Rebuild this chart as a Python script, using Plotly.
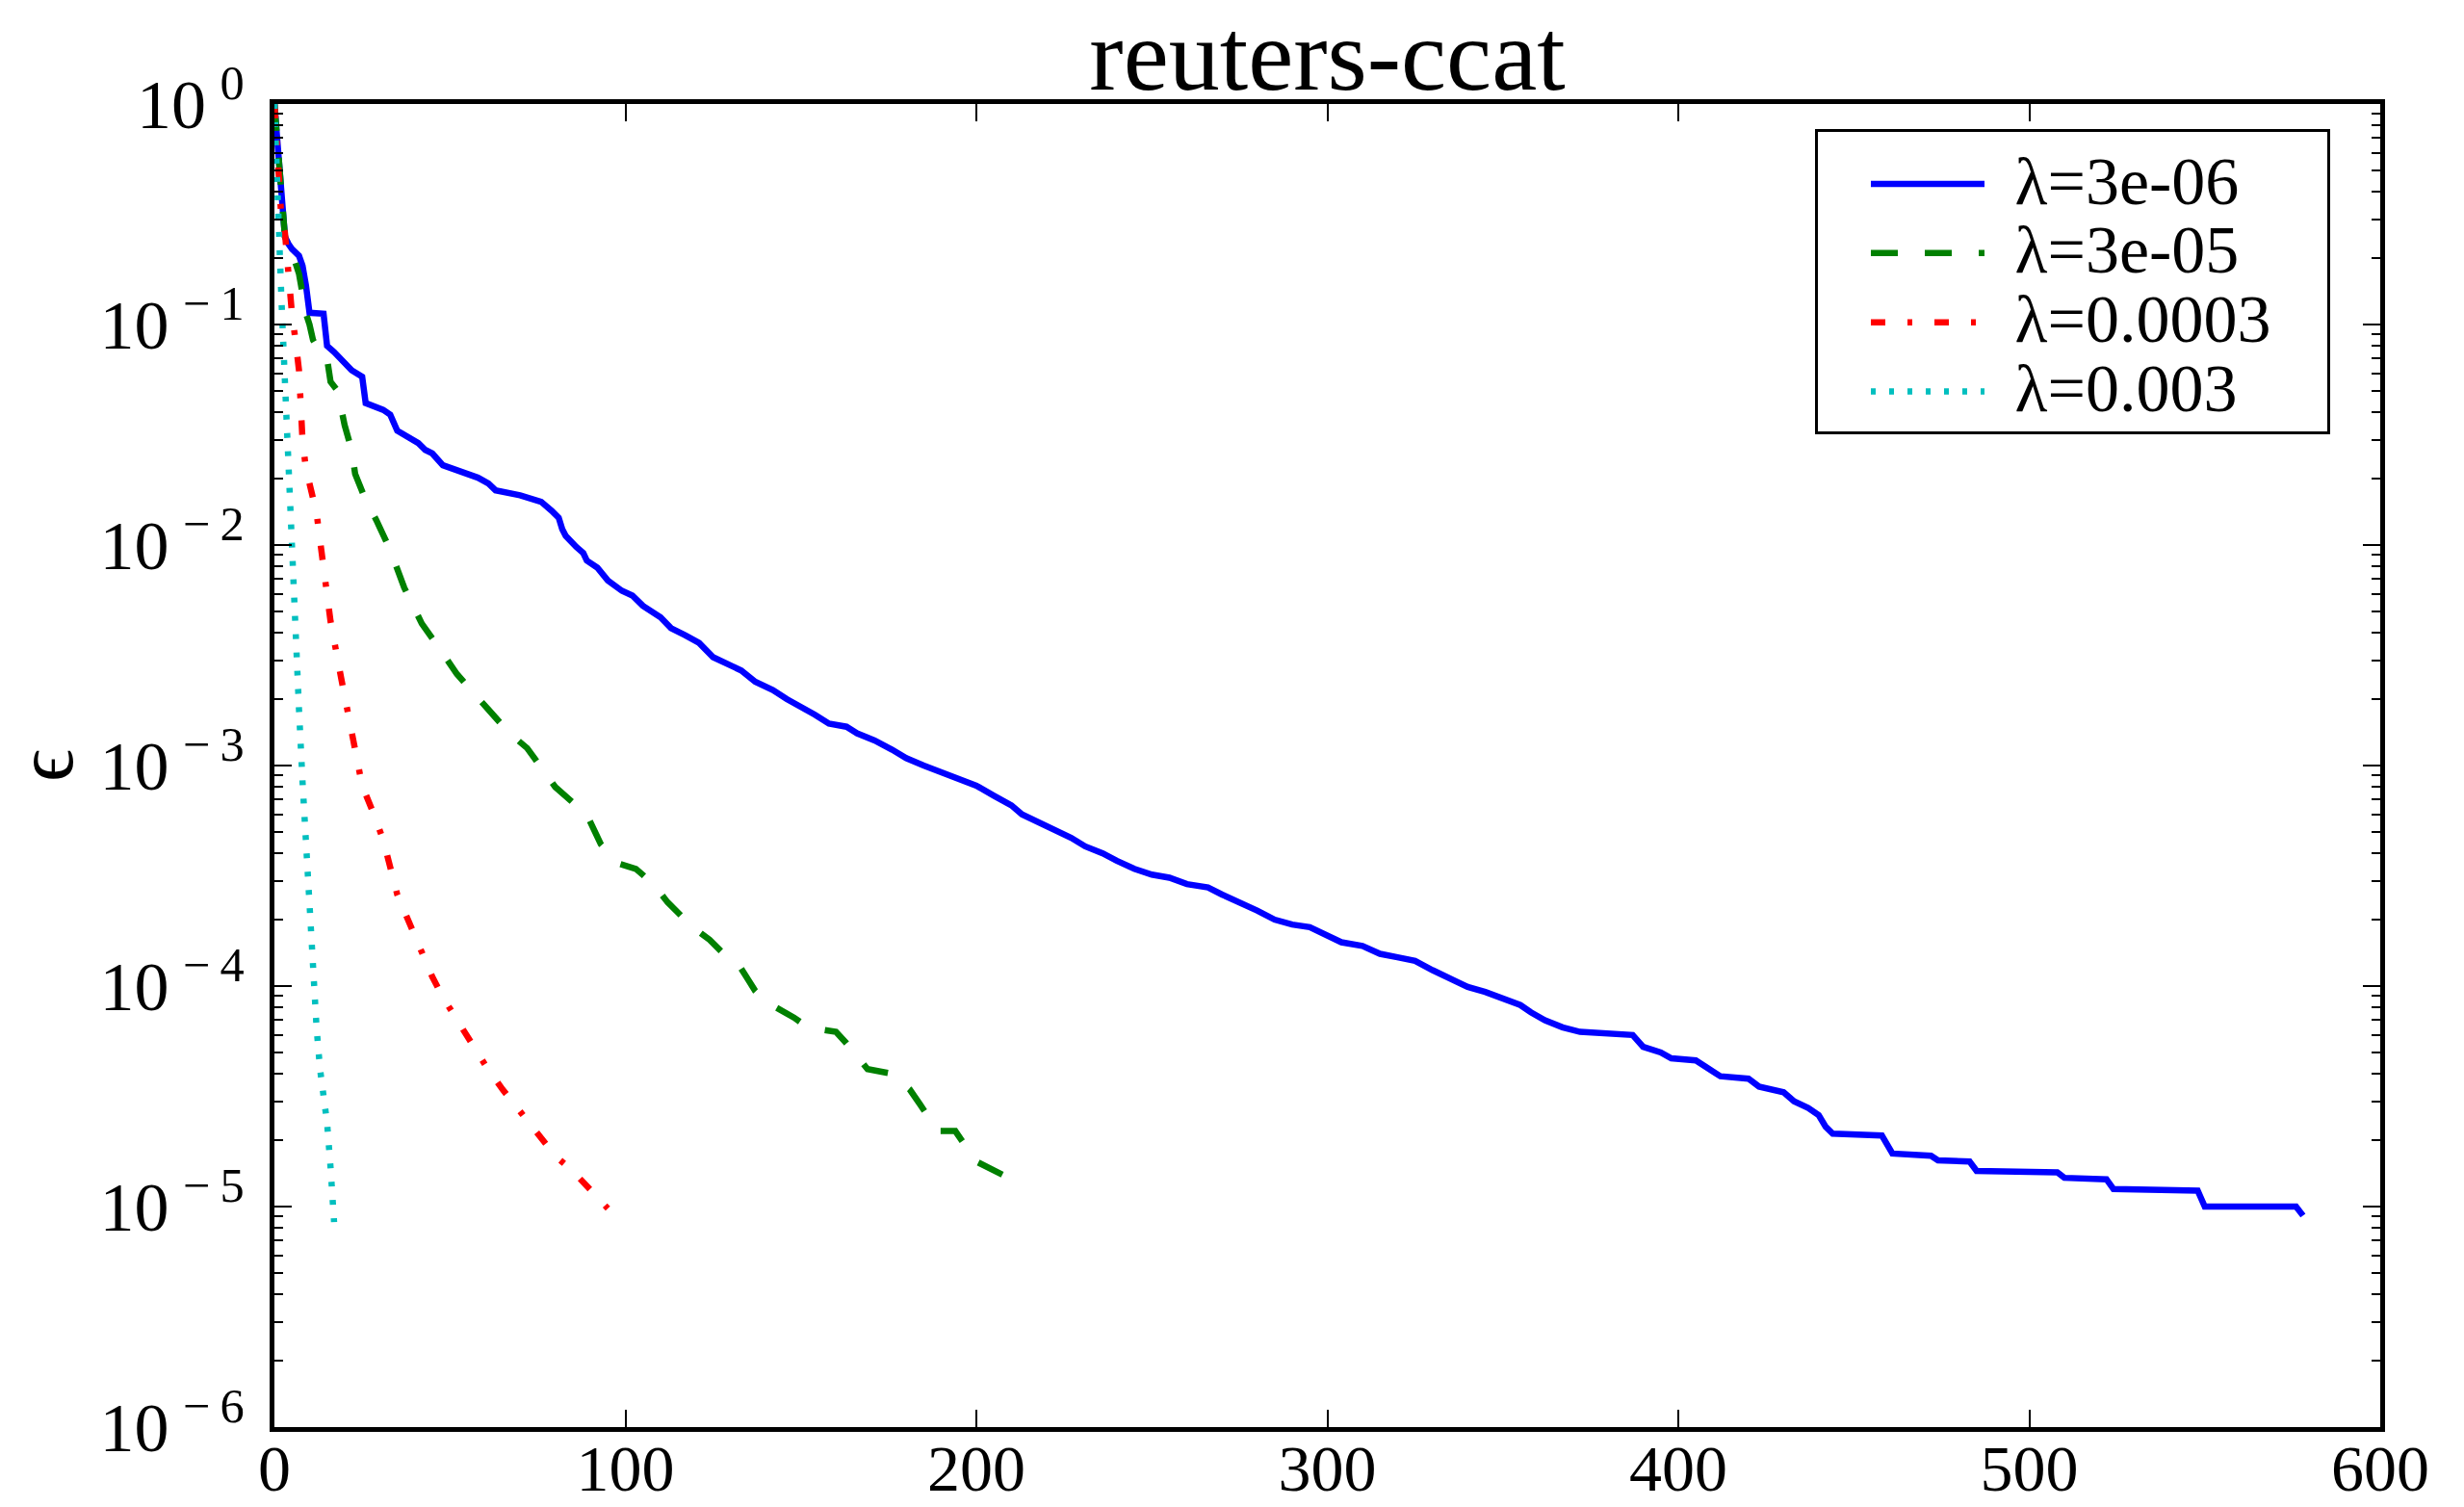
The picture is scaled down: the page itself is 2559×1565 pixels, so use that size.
import plotly.graph_objects as go

# ---------------- data ----------------
title_text = "reuters-ccat"
series_names = ["λ=3e-06", "λ=3e-05", "λ=0.0003", "λ=0.003"]
series_colors = ["#0000ff", "#008000", "#ff0000", "#00bfbf"]

blue_x = [0, 1, 2, 3, 4, 5, 7, 8, 9, 10, 14, 15, 17, 20, 22, 25, 26, 31, 33, 35, 38, 41, 43, 45, 48,
          53, 58, 61, 63, 70, 76, 79, 81, 82, 83, 86, 88, 89, 92, 95, 99, 102, 105, 110, 113, 117,
          121, 125, 129, 133, 137, 142, 146, 150, 154, 158, 163, 166, 171, 176, 180, 185, 190, 195,
          200, 205, 210, 213, 218, 222, 227, 231, 236, 240, 245, 250, 255, 260, 266, 270, 275, 280,
          285, 290, 295, 300, 304, 310, 315, 320, 325, 330, 335, 340, 345, 350, 355, 358, 362, 367,
          372, 387, 390, 395, 398, 405, 408, 412, 420, 423, 430, 433, 437, 440, 442, 444, 458, 461,
          472, 474, 483, 485, 508, 510, 522, 524, 548, 550, 576, 578]
blue_y = [1.0, 0.62, 0.42, 0.25, 0.232, 0.22, 0.205, 0.185, 0.15, 0.113, 0.112, 0.08, 0.075, 0.066,
          0.062, 0.058, 0.044, 0.041, 0.039, 0.033, 0.031, 0.029, 0.027, 0.026, 0.023, 0.0215,
          0.0202, 0.019, 0.0177, 0.0168, 0.0157, 0.0143, 0.0133, 0.0118, 0.011, 0.0098, 0.0092,
          0.0085, 0.0079, 0.0069, 0.0062, 0.0059, 0.0053, 0.0047, 0.0042, 0.0039, 0.0036, 0.0031,
          0.0029, 0.0027, 0.0024, 0.0022, 0.002, 0.00185, 0.0017, 0.00155, 0.0015, 0.0014,
          0.0013, 0.00118, 0.00108, 0.001, 0.00093, 0.00087, 0.00081, 0.00073, 0.00066, 0.0006,
          0.00055, 0.00051, 0.00047, 0.00043, 0.0004, 0.00037, 0.00034, 0.00032, 0.00031,
          0.00029, 0.00028, 0.00026, 0.00024, 0.00022, 0.0002, 0.00019, 0.000185, 0.00017,
          0.000158, 0.000152, 0.00014, 0.000135, 0.00013, 0.000118, 0.000108, 9.9e-5, 9.4e-5,
          8.8e-5, 8.2e-5, 7.6e-5, 7.0e-5, 6.5e-5, 6.2e-5, 6.0e-5, 5.3e-5, 5.0e-5, 4.7e-5, 4.6e-5,
          4.3e-5, 3.9e-5, 3.8e-5, 3.5e-5, 3.3e-5, 3.0e-5, 2.8e-5, 2.6e-5, 2.3e-5, 2.14e-5,
          2.1e-5, 1.74e-5, 1.7e-5, 1.62e-5, 1.6e-5, 1.45e-5, 1.43e-5, 1.35e-5, 1.33e-5, 1.2e-5,
          1.18e-5, 1.0e-5, 1.0e-5, 9.1e-6]

green_x = [0, 1, 2, 3, 4, 6, 7, 8, 9, 10, 11, 13, 15, 16, 18, 20, 22, 23, 26, 29, 31, 33, 37, 42, 47,
           52, 56, 61, 67, 72, 76, 80, 85, 89, 93, 98, 103, 108, 112, 116, 119, 124, 129, 133, 137,
           140, 148, 152, 160, 163, 169, 176, 181, 184, 189, 194, 198, 200, 208, 212]
green_y = [1.0, 0.6, 0.35, 0.25, 0.22, 0.19, 0.17, 0.13, 0.112, 0.1, 0.085, 0.075, 0.07, 0.055, 0.05,
           0.035, 0.027, 0.021, 0.016, 0.013, 0.011, 0.0095, 0.0064, 0.0044, 0.0034, 0.0026, 0.0022,
           0.0018, 0.0014, 0.0012, 0.00098, 0.0008, 0.00068, 0.0006, 0.00044, 0.00036, 0.00034,
           0.00029, 0.00024, 0.00021, 0.000186, 0.000162, 0.000135, 0.00012, 9.5e-5, 8.5e-5,
           7.2e-5, 6.5e-5, 6.2e-5, 5.5e-5, 4.2e-5, 4.0e-5, 3.4e-5, 2.9e-5, 2.2e-5, 2.2e-5, 1.8e-5,
           1.6e-5, 1.38e-5, 1.2e-5]

red_x = [0, 1, 2, 3, 4, 5, 6, 7, 8, 9, 10, 12, 13, 14, 16, 19, 22, 25, 28, 31, 35, 38, 41, 45, 48,
         52, 56, 60, 65, 70, 75, 80, 85, 90, 95]
red_y = [1.0, 0.5, 0.3, 0.26, 0.16, 0.112, 0.085, 0.062, 0.03, 0.022, 0.019, 0.014, 0.0105, 0.0082,
         0.0045, 0.0025, 0.0014, 0.00081, 0.00062, 0.00046, 0.00026, 0.0002, 0.000151, 0.00011,
         8.9e-5, 7.0e-5, 5.6e-5, 4.4e-5, 3.4e-5, 2.7e-5, 2.1e-5, 1.7e-5, 1.45e-5, 1.2e-5, 9.8e-6]

cyan_x = [0, 1, 2, 3, 4, 5, 6, 7, 8, 9, 10, 11, 12, 13, 14, 15, 16, 17]
cyan_y = [1.0, 0.3, 0.13, 0.055, 0.022, 0.0095, 0.0042, 0.0018, 0.00085, 0.00045, 0.00022,
          0.000105, 6.5e-5, 4.2e-5, 3.1e-5, 2.4e-5, 1.5e-5, 8.5e-6]

x_tick_vals = [0, 100, 200, 300, 400, 500, 600]
y_tick_exps = [0, -1, -2, -3, -4, -5, -6]
y_label = "ϵ"

# ---------------- figure ----------------
FONT = "Liberation Serif, DejaVu Serif, serif"
NB = "\u00a0"
dashes = ["solid", "28px,28px", "15px,23px,5px,23px", "5px,14px"]
xs = [blue_x, green_x, red_x, cyan_x]
ys = [blue_y, green_y, red_y, cyan_y]

fig = go.Figure()
for name, color, dash, x, y in zip(series_names, series_colors, dashes, xs, ys):
    label = NB * 2 + '<span style="font-size:70px">' + name + "</span>" + NB * 4
    fig.add_trace(go.Scatter(x=x, y=y, mode="lines", name=label,
                             line=dict(color=color, width=6.5, dash=dash)))


def power_label(e):
    if e < 0:
        return "10\u2009<sup>−\u2009%d</sup>" % (-e)
    return "10\u2009<sup>%d</sup>" % e


y_tick_vals = [10.0 ** e for e in y_tick_exps]
y_tick_text = [power_label(e) for e in y_tick_exps]
minor_vals = [k * 10.0 ** e for e in range(-6, 0) for k in range(2, 10)]

fig.update_layout(
    width=2559, height=1565,
    margin=dict(l=285, r=87, t=108, b=83, autoexpand=False),
    plot_bgcolor="white", paper_bgcolor="white",
    font=dict(family=FONT, color="black", size=72),
    title=dict(text=title_text, x=0.5, xref="paper", y=0.9642, yref="container",
               xanchor="center", yanchor="middle", font=dict(size=106, family=FONT)),
    showlegend=True,
    legend=dict(x=0.7316, y=0.9811, xanchor="left", yanchor="top",
                bgcolor="white", bordercolor="black", borderwidth=3,
                font=dict(size=53, family=FONT), itemwidth=118, tracegroupgap=0,
                indentation=50,
                title=dict(text=NB, font=dict(size=10, family=FONT))),
)
fig.update_xaxes(range=[0, 600], tickmode="array", tickvals=x_tick_vals, automargin=False,
                 ticks="inside", ticklen=18, tickwidth=2, tickcolor="black",
                 showline=True, linewidth=5, linecolor="black", mirror="allticks",
                 showgrid=False, zeroline=False, tickfont=dict(size=68, family=FONT),
                 ticklabelstandoff=-21)
fig.update_yaxes(type="log", range=[-6, 0], tickmode="array", tickvals=y_tick_vals,
                 ticktext=y_tick_text, ticks="inside", ticklen=18, tickwidth=2, automargin=False,
                 tickcolor="black", showline=True, linewidth=5, linecolor="black",
                 mirror="allticks", showgrid=False, zeroline=False,
                 tickfont=dict(size=72, family=FONT), ticklabelstandoff=12,
                 minor=dict(tickmode="array", tickvals=minor_vals, ticks="inside",
                            ticklen=9, tickwidth=1.5, tickcolor="black", showgrid=False),
                 title=dict(text=y_label, font=dict(size=84, family=FONT), standoff=2))

# remove the default page margin so the figure fills the window exactly
fig.write_html("out.html", config={"displayModeBar": False},
               post_script="document.body.style.margin='0';")
